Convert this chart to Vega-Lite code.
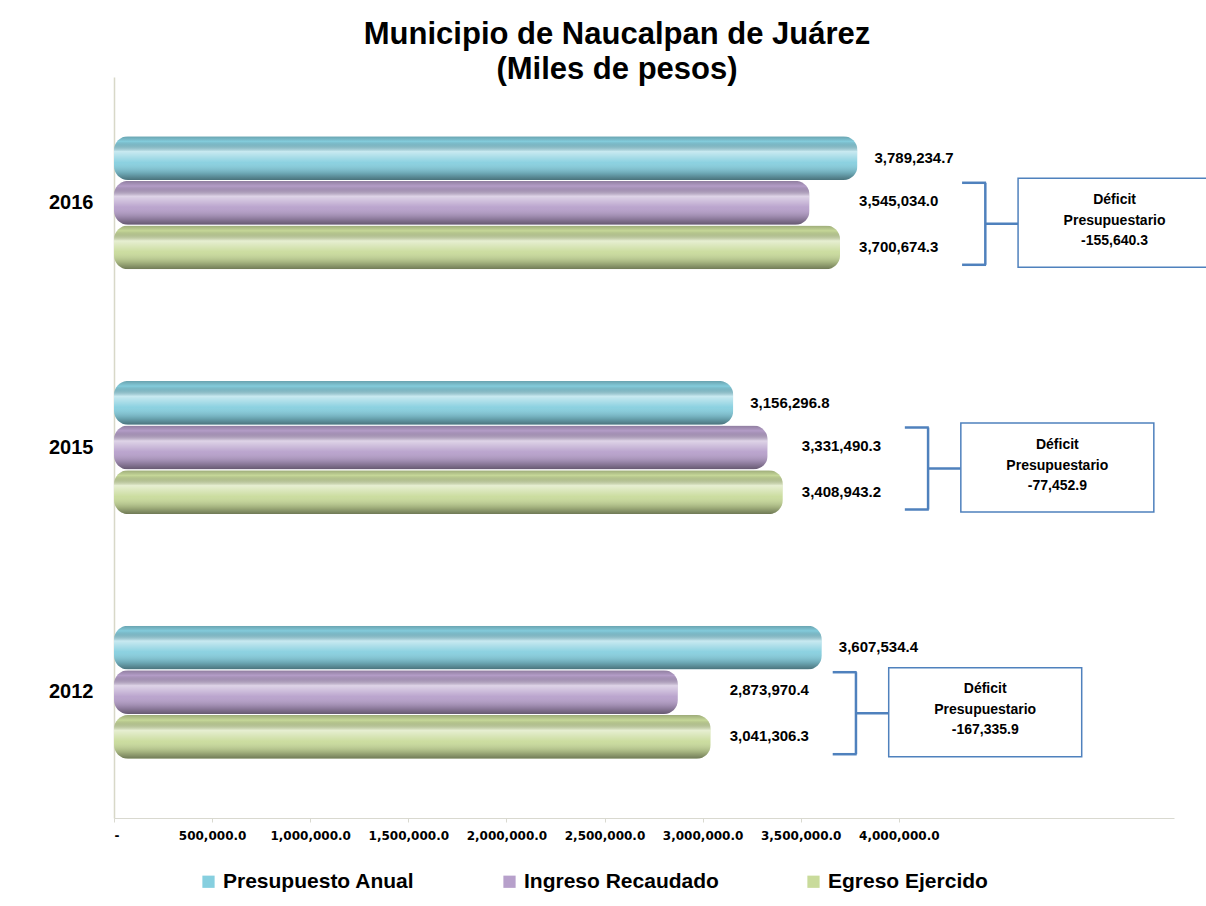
{
  "$schema": "https://vega.github.io/schema/vega-lite/v6.json",
  "width": 1060,
  "height": 741,
  "autosize": {"type": "none"},
  "padding": {"left": 114, "top": 77, "right": 32, "bottom": 88},
  "background": "white",
  "config": {
    "view": {"stroke": null},
    "font": "Liberation Sans"
  },
  "title": {
    "text": ["Municipio de Naucalpan de Juárez", "(Miles de pesos)"],
    "font": "Liberation Sans",
    "fontSize": 31,
    "fontWeight": "bold",
    "lineHeight": 35,
    "color": "#000000",
    "anchor": "middle",
    "frame": "group",
    "offset": -9,
    "dx": -27
  },
  "data": {
    "values": [
      {"year": "2016", "Presupuesto Anual": 3789234.7, "Ingreso Recaudado": 3545034.0, "Egreso Ejercido": 3700674.3, "Deficit": -155640.3},
      {"year": "2015", "Presupuesto Anual": 3156296.8, "Ingreso Recaudado": 3331490.3, "Egreso Ejercido": 3408943.2, "Deficit": -77452.9},
      {"year": "2012", "Presupuesto Anual": 3607534.4, "Ingreso Recaudado": 2873970.4, "Egreso Ejercido": 3041306.3, "Deficit": -167335.9}
    ]
  },
  "encoding": {
    "y": {
      "field": "year", "type": "nominal", "sort": ["2016", "2015", "2012"], "title": null,
      "scale": {"paddingInner": 0.456, "paddingOuter": 0.242},
      "axis": {"ticks": false, "domainColor": "#d8d8c8", "domainWidth": 1.5, "labelFont": "Liberation Sans", "labelFontSize": 20, "labelFontWeight": "bold", "labelColor": "#000000", "labelPadding": 21}
    }
  },
  "layer": [
    {
      "transform": [{"fold": ["Presupuesto Anual", "Ingreso Recaudado", "Egreso Ejercido"], "as": ["serie", "valor"]}],
      "mark": {"type": "bar", "cornerRadius": 14},
      "encoding": {
        "x": {
          "field": "valor", "type": "quantitative", "title": null,
          "scale": {"domain": [0, 5402650], "nice": false},
          "axis": {
            "values": [0, 500000, 1000000, 1500000, 2000000, 2500000, 3000000, 3500000, 4000000],
            "labelExpr": "datum.value == 0 ? '-' : format(datum.value, ',.1f')",
            "grid": false, "domainColor": "#d9d9d0", "tickColor": "#d9d9d0", "tickSize": 4,
            "labelFont": "DejaVu Sans", "labelFontSize": 12, "labelFontWeight": "bold", "labelColor": "#000000", "labelPadding": 8
          }
        },
        "yOffset": {"field": "serie", "type": "nominal", "sort": ["Presupuesto Anual", "Ingreso Recaudado", "Egreso Ejercido"], "scale": {"paddingInner": 0.02, "paddingOuter": 0}},
        "color": {
          "field": "serie", "type": "nominal", "sort": ["Presupuesto Anual", "Ingreso Recaudado", "Egreso Ejercido"],
          "scale": {"domain": ["Presupuesto Anual", "Ingreso Recaudado", "Egreso Ejercido"], "range": ["#86cfdf", "#b7a0cb", "#c9db9b"]},
          "legend": {
            "title": null, "orient": "none", "direction": "horizontal", "legendX": 84, "legendY": 794,
            "symbolType": "square", "symbolSize": 150, "symbolStrokeWidth": 0, "labelOffset": 4, "labelLimit": 500,
            "labelFont": "Liberation Sans", "labelFontSize": 21, "labelFontWeight": "bold", "labelColor": "#000000",
            "columnPadding": 84, "padding": 0
          }
        }
      }
    },
    {
      "transform": [{"fold": ["Presupuesto Anual", "Ingreso Recaudado", "Egreso Ejercido"], "as": ["serie", "valor"]}],
      "mark": {
        "type": "bar", "cornerRadius": 14,
        "fill": {"gradient": "linear", "x1": 0, "y1": 0, "x2": 0, "y2": 1, "stops": [
          {"offset": 0, "color": "rgba(0,0,0,0.22)"},
          {"offset": 0.12, "color": "rgba(0,0,0,0.02)"},
          {"offset": 0.35, "color": "rgba(255,255,255,0.55)"},
          {"offset": 0.6, "color": "rgba(255,255,255,0.05)"},
          {"offset": 0.85, "color": "rgba(0,0,0,0.2)"},
          {"offset": 1, "color": "rgba(0,0,0,0.45)"}
        ]}
      },
      "encoding": {
        "x": {"field": "valor", "type": "quantitative"},
        "yOffset": {"field": "serie", "type": "nominal", "sort": ["Presupuesto Anual", "Ingreso Recaudado", "Egreso Ejercido"]}
      }
    },
    {
      "mark": {"type": "text", "align": "left", "baseline": "middle", "dx": 17, "yOffset": -45, "fontSize": 15, "fontWeight": "bold", "color": "#000000"},
      "encoding": {
        "x": {"field": "Presupuesto Anual", "type": "quantitative"},
        "text": {"field": "Presupuesto Anual", "type": "quantitative", "format": ",.1f"}
      }
    },
    {
      "mark": {"type": "text", "align": "left", "baseline": "middle", "dx": 19, "yOffset": -2, "fontSize": 15, "fontWeight": "bold", "color": "#000000"},
      "encoding": {
        "x": {"field": "Egreso Ejercido", "type": "quantitative"},
        "text": {"field": "Ingreso Recaudado", "type": "quantitative", "format": ",.1f"}
      }
    },
    {
      "mark": {"type": "text", "align": "left", "baseline": "middle", "dx": 19, "yOffset": 44, "fontSize": 15, "fontWeight": "bold", "color": "#000000"},
      "encoding": {
        "x": {"field": "Egreso Ejercido", "type": "quantitative"},
        "text": {"field": "Egreso Ejercido", "type": "quantitative", "format": ",.1f"}
      }
    },
    {
      "mark": {"type": "bar", "height": 82, "yOffset": 21, "xOffset": 144, "x2Offset": 146.5, "color": "#4f81bd"},
      "encoding": {
        "x": {"field": "Egreso Ejercido", "type": "quantitative"},
        "x2": {"field": "Egreso Ejercido"}
      }
    },
    {
      "mark": {"type": "rule", "yOffset": -20, "xOffset": 122, "x2Offset": 146, "strokeWidth": 2.5, "color": "#4f81bd"},
      "encoding": {
        "x": {"field": "Egreso Ejercido", "type": "quantitative"},
        "x2": {"field": "Egreso Ejercido"}
      }
    },
    {
      "mark": {"type": "rule", "yOffset": 62, "xOffset": 122, "x2Offset": 146, "strokeWidth": 2.5, "color": "#4f81bd"},
      "encoding": {
        "x": {"field": "Egreso Ejercido", "type": "quantitative"},
        "x2": {"field": "Egreso Ejercido"}
      }
    },
    {
      "mark": {"type": "rule", "yOffset": 21, "xOffset": 145, "x2Offset": 178, "strokeWidth": 2.5, "color": "#4f81bd"},
      "encoding": {
        "x": {"field": "Egreso Ejercido", "type": "quantitative"},
        "x2": {"field": "Egreso Ejercido"}
      }
    },
    {
      "mark": {"type": "bar", "height": 89, "yOffset": 20, "xOffset": 178, "x2Offset": 371, "fill": "#ffffff", "stroke": "#4f81bd", "strokeWidth": 1.5},
      "encoding": {
        "x": {"field": "Egreso Ejercido", "type": "quantitative"},
        "x2": {"field": "Egreso Ejercido"}
      }
    },
    {
      "mark": {"type": "text", "text": "Déficit", "align": "center", "baseline": "middle", "dx": 274.5, "yOffset": -3, "fontSize": 14, "fontWeight": "bold", "color": "#000000"},
      "encoding": {
        "x": {"field": "Egreso Ejercido", "type": "quantitative"}
      }
    },
    {
      "mark": {"type": "text", "text": "Presupuestario", "align": "center", "baseline": "middle", "dx": 274.5, "yOffset": 18, "fontSize": 14, "fontWeight": "bold", "color": "#000000"},
      "encoding": {
        "x": {"field": "Egreso Ejercido", "type": "quantitative"}
      }
    },
    {
      "mark": {"type": "text", "align": "center", "baseline": "middle", "dx": 274.5, "yOffset": 38, "fontSize": 14, "fontWeight": "bold", "color": "#000000",
        "text": {"expr": "replace(format(datum.Deficit, ',.1f'), '\u2212', '-')"}},
      "encoding": {
        "x": {"field": "Egreso Ejercido", "type": "quantitative"}
      }
    }
  ]
}
